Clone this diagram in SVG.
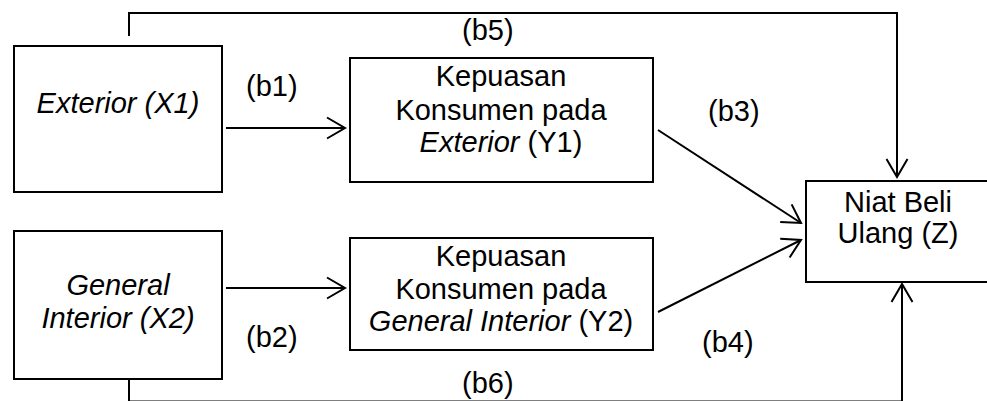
<svg xmlns="http://www.w3.org/2000/svg" width="987" height="401" viewBox="0 0 987 401">
  <style>
    .box { fill: #ffffff; stroke: #000000; stroke-width: 2; }
    .edge { fill: none; stroke: #000000; stroke-width: 2; }
    text { font-family: "Liberation Sans", Arial, sans-serif; font-size: 29px; fill: #000000; }
    .c { text-anchor: middle; }
    .i { font-style: italic; }
  </style>
  <defs>
    <marker id="arrow" markerUnits="userSpaceOnUse" markerWidth="24" markerHeight="26" refX="0" refY="0" viewBox="-20 -13 24 26" orient="auto">
      <path d="M-18,-10.5 L0,0 L-18,10.5" fill="none" stroke="#000000" stroke-width="2"/>
    </marker>
  </defs>

  <rect width="987" height="401" fill="#ffffff"/>

  <g id="connectors">
    <!-- direct paths X1 -> Z (b5) and X2 -> Z (b6) -->
    <polyline class="edge" points="129,36 129,13 897,13 897,177" marker-end="url(#arrow)"/>
    <polyline class="edge" points="129,379 129,401.4 902,401.4 902,284" marker-end="url(#arrow)"/>
    <!-- X -> Y -->
    <line class="edge" x1="226" y1="128" x2="345" y2="128" marker-end="url(#arrow)"/>
    <line class="edge" x1="226" y1="288" x2="345" y2="288" marker-end="url(#arrow)"/>
    <!-- Y -> Z -->
    <line class="edge" x1="658" y1="130" x2="801" y2="223" marker-end="url(#arrow)"/>
    <line class="edge" x1="658" y1="312" x2="801" y2="240" marker-end="url(#arrow)"/>
  </g>

  <g id="labels">
    <text x="462" y="40">(b5)</text>
    <text x="246" y="96">(b1)</text>
    <text x="708" y="121">(b3)</text>
    <text x="246" y="347">(b2)</text>
    <text x="702" y="352">(b4)</text>
    <text x="462" y="393">(b6)</text>
  </g>

  <g id="x1">
    <rect class="box" x="14" y="46" width="208" height="146"/>
    <text class="c i" x="118" y="113">Exterior (X1)</text>
  </g>

  <g id="x2">
    <rect class="box" x="14" y="231" width="208" height="148"/>
    <text class="c i" x="118" y="295">General</text>
    <text class="c i" x="118" y="328">Interior (X2)</text>
  </g>

  <g id="y1">
    <rect class="box" x="350" y="58" width="303" height="124"/>
    <text class="c" x="501" y="86">Kepuasan</text>
    <text class="c" x="501" y="120">Konsumen pada</text>
    <text class="c" x="501" y="152"><tspan class="i">Exterior</tspan> (Y1)</text>
  </g>

  <g id="y2">
    <rect class="box" x="350" y="238" width="303" height="112"/>
    <text class="c" x="501" y="266">Kepuasan</text>
    <text class="c" x="501" y="299">Konsumen pada</text>
    <text class="c" x="501" y="331"><tspan class="i">General Interior</tspan> (Y2)</text>
  </g>

  <g id="z">
    <rect class="box" x="806" y="181" width="190" height="101"/>
    <text class="c" x="898" y="212">Niat Beli</text>
    <text class="c" x="898" y="243">Ulang (Z)</text>
  </g>
</svg>
